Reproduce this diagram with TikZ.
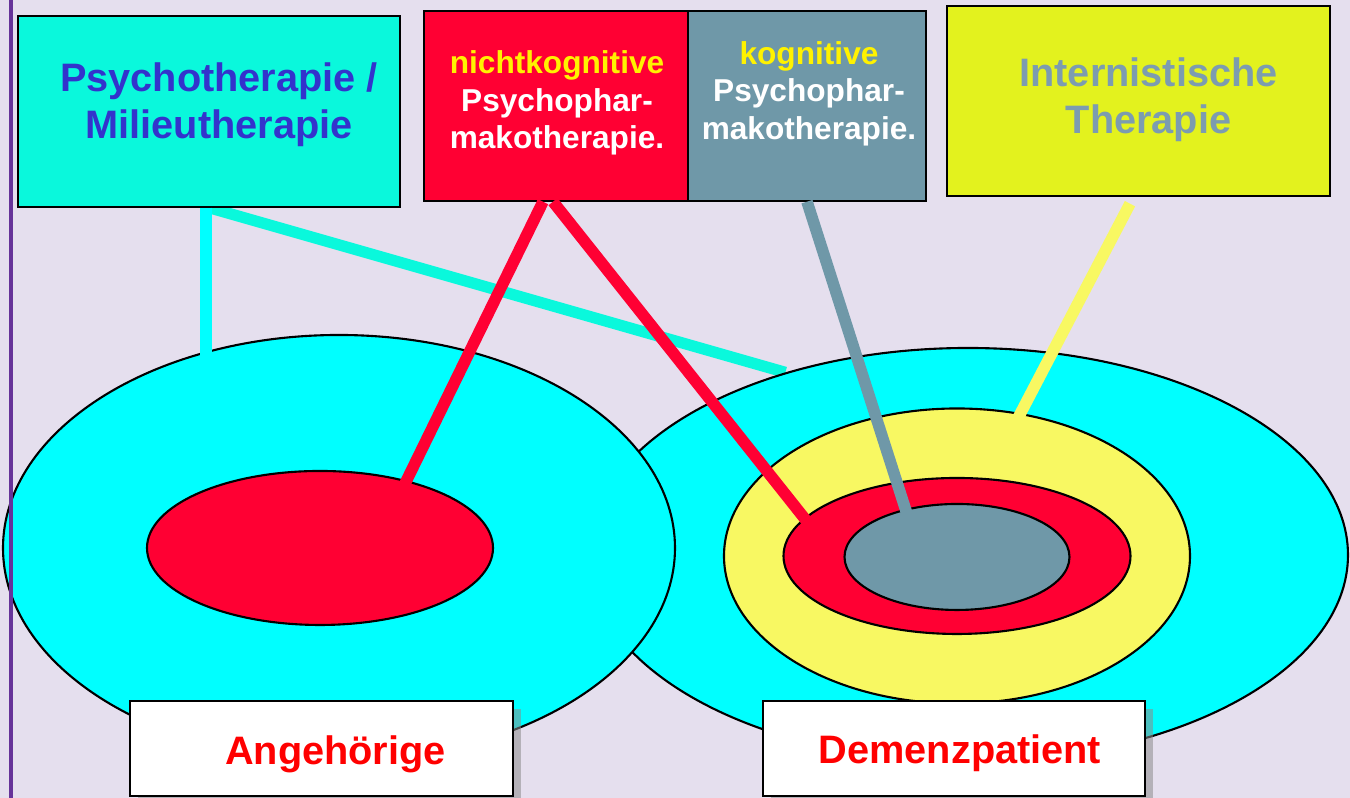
\documentclass[tikz,border=0pt]{standalone}
\usepackage{fontspec}
\setmainfont{Liberation Sans}
\usetikzlibrary{shapes.geometric,shadows,calc}
\definecolor{fondo}{HTML}{E5DFEE}
\definecolor{lila}{HTML}{663399}
\definecolor{turq}{HTML}{0AF8DC}
\definecolor{azul}{HTML}{3333CC}
\definecolor{cian}{HTML}{00FFFF}
\definecolor{rojo}{HTML}{FF0033}
\definecolor{gris}{HTML}{6F98A8}
\definecolor{lima}{HTML}{E3F21E}
\definecolor{amar}{HTML}{F8F862}
\definecolor{grisclaro}{HTML}{7C9CB0}
\pgfdeclarelayer{bg}
\pgfdeclarelayer{mid}
\pgfsetlayers{bg,mid,main}

\begin{document}
\begin{tikzpicture}[line width=0.65pt,
  caja/.style={draw,rectangle,inner sep=0pt},
  elip/.style={draw,ellipse,inner sep=0pt,line width=0.6pt},
  grande/.style={font=\fontsize{11.3}{13.4}\selectfont\bfseries,align=center,inner sep=0pt},
  chico/.style={font=\fontsize{9}{10.7}\selectfont\bfseries,align=center,inner sep=0pt},
  enlace/.style={line width=3.3pt,shorten >=-3pt}]
  \useasboundingbox (0,0) rectangle (13.5,7.98);
  \begin{pgfonlayer}{bg}
    \fill[fondo] (0,0) rectangle (13.5,7.98);
  \end{pgfonlayer}
  % cajas de terapia
  \node[caja,fill=turq,minimum width=3.82cm,minimum height=1.91cm] (psy) at (2.09,6.865) {};
  \node[caja,fill=rojo,minimum width=2.64cm,minimum height=1.90cm] (nk) at (5.56,6.92) {};
  \node[caja,fill=gris,minimum width=2.38cm,minimum height=1.90cm] (kog) at (8.07,6.92) {};
  \node[caja,fill=lima,minimum width=3.83cm,minimum height=1.90cm] (inter) at (11.385,6.97) {};
  % elipses
  \node[elip,fill=cian,minimum width=7.60cm,minimum height=4.14cm] (bigR) at (9.68,2.43) {};
  \node[elip,fill=cian,minimum width=6.72cm,minimum height=4.26cm] (bigL) at (3.39,2.50) {};
  \node[elip,fill=rojo,minimum width=3.46cm,minimum height=1.54cm] (redL) at (3.20,2.50) {};
  \node[elip,fill=amar,minimum width=4.66cm,minimum height=2.95cm] (yelR) at (9.57,2.42) {};
  \node[elip,fill=rojo,minimum width=3.47cm,minimum height=1.56cm] (redR) at (9.57,2.42) {};
  \node[elip,fill=gris,minimum width=2.25cm,minimum height=1.06cm] (grayR) at (9.57,2.41) {};
  % linea diagonal (por debajo de la elipse derecha)
  \begin{pgfonlayer}{mid}
    \draw[turq,line width=3.2pt] (psy.south) -- (bigR.135);
  \end{pgfonlayer}
  % conexiones
  \draw[enlace,cian] (bigL.124 |- psy.south) -- (bigL.124);
  \draw[enlace,rojo] ($(nk.south)+(-0.13,0)$) -- (redL.38);
  \draw[enlace,rojo] ($(nk.south)+(-0.03,0)$) -- (redR.166);
  \draw[enlace,gris] (kog.south) -- (grayR.137);
  \draw[enlace,amar] ($(inter.south)+(-0.085,-0.07)$) -- (yelR.66);
  % etiquetas de abajo
  \node[caja,fill=white,drop shadow={shadow xshift=0.08cm,shadow yshift=-0.08cm,fill=black!45,opacity=0.55},
    minimum width=3.83cm,minimum height=0.95cm] (ang) at (3.215,0.495) {};
  \node[caja,fill=white,drop shadow={shadow xshift=0.08cm,shadow yshift=-0.08cm,fill=black!45,opacity=0.55},
    minimum width=3.82cm,minimum height=0.95cm] (dem) at (9.54,0.495) {};
  % textos
  \node[grande,text=azul] (psytxt) at (2.19,6.93) {Psychotherapie /\\Milieutherapie};
  \node[chico,text=white] (nktxt) at (5.57,6.95) {\textcolor{yellow}{nichtkognitive}\\Psychophar-\\makotherapie.};
  \node[chico,text=white] (kogtxt) at (8.09,7.045) {\textcolor{yellow}{kognitive}\\Psychophar-\\makotherapie.};
  \node[grande,text=grisclaro] (intertxt) at (11.485,6.985) {Internistische\\Therapie};
  \node[grande,text=red] (angtxt) at (3.355,0.44) {Angehörige};
  \node[grande,text=red] (demtxt) at (9.60,0.445) {Demenzpatient};
  % borde lila
  \draw[lila,line width=0.045cm] (0.11,0) -- (0.11,7.98);
\end{tikzpicture}
\end{document}
